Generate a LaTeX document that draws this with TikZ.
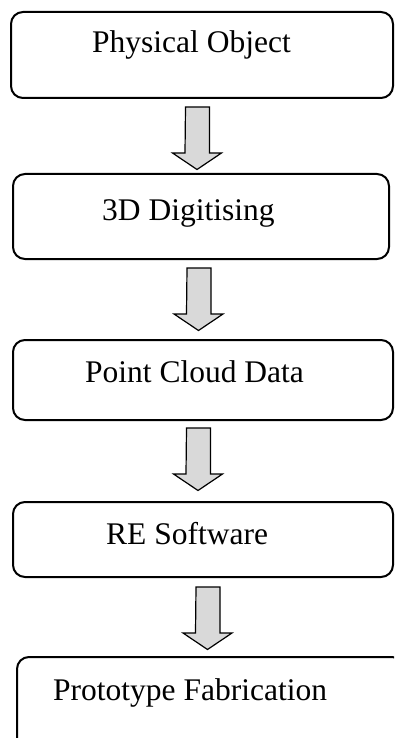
\documentclass[tikz,border=0pt]{standalone}
\usepackage{fontspec}
\setmainfont{Liberation Serif}
\tikzset{
  stagebox/.style={draw=black, line width=2pt, rounded corners=12pt, fill=white},
  stagetext/.style={anchor=base west, inner sep=0pt, font=\fontsize{31.5}{38}\selectfont},
  blockarrow/.style={draw=black, line width=1.2pt, fill=gray!30, line join=miter}
}
\begin{document}
\begin{tikzpicture}[x=1pt,y=-1pt]
\useasboundingbox (0,0) rectangle (394,738);
\clip (0,0) rectangle (394,738);
% boxes
\draw[stagebox] (11,12) rectangle (393,98);
\draw[stagebox] (13,174) rectangle (389,259);
\draw[stagebox] (13,340) rectangle (393,420);
\draw[stagebox] (13,502) rectangle (393,577);
\draw[stagebox] (17,657) rectangle (404,750);
% texts
\node[stagetext] (t1) at (92,53) {Physical Object};
\node[stagetext] (t2) at (102,220) {3D Digitising};
\node[stagetext] (t3) at (85,382) {Point Cloud Data};
\node[stagetext] (t4) at (106,544) {RE Software};
\node[stagetext] (t5) at (53,700) {Prototype Fabrication};
% arrows
\coordinate (a1) at (197.5,107);
\coordinate (a2) at (199,268);
\coordinate (a3) at (198.5,428);
\coordinate (a4) at (208,587);
\foreach \a in {a1,a2,a3,a4}{
  \draw[blockarrow] (\a) ++(-12,0) -- ++(24,0) -- ++(0,46) -- ++(12,0)
    -- ++(-24.5,16.5) -- ++(-24.5,-16.5) -- ++(12.5,0) -- cycle;
}
\end{tikzpicture}
\end{document}
